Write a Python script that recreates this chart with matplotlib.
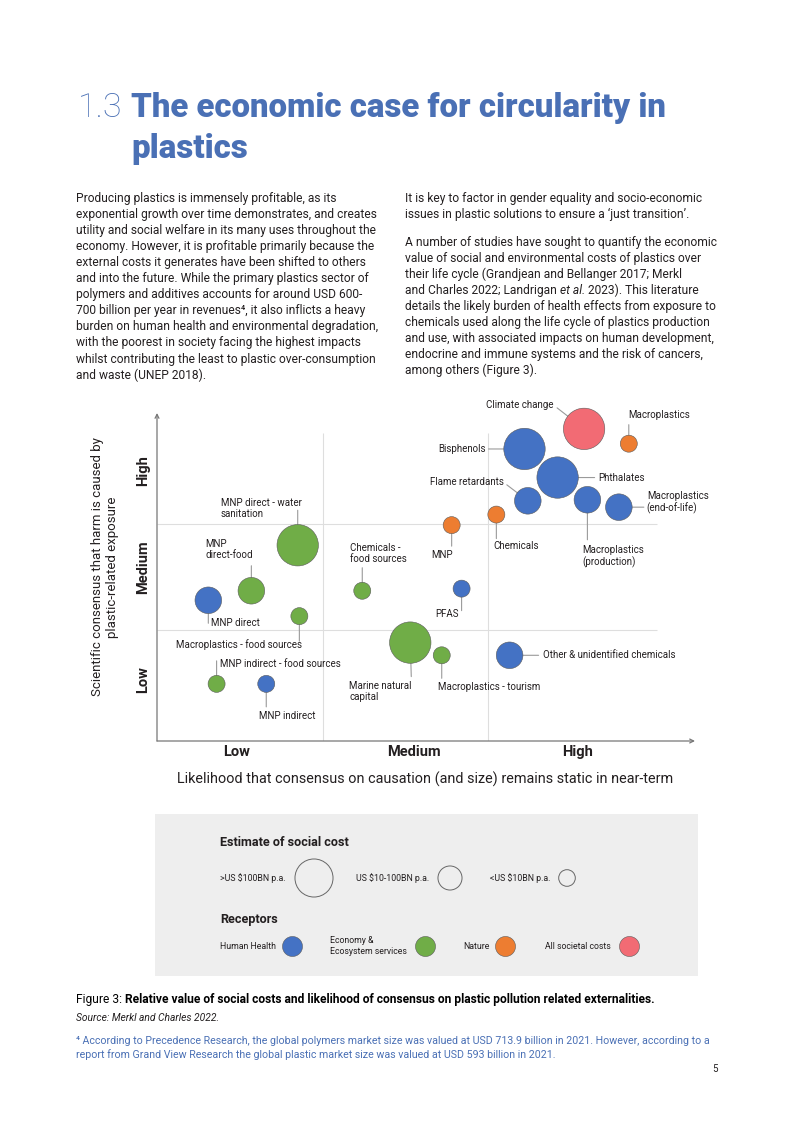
import matplotlib
matplotlib.use("Agg")
import matplotlib.pyplot as plt
from matplotlib.patches import Rectangle

plt.rcParams['font.family'] = ['Roboto', 'DejaVu Sans']

# ---- data (Merkl and Charles 2022) ----
names = ["Climate change", "Macroplastics", "Bisphenols", "Phthalates",
         "Flame retardants", "Macroplastics\n(production)",
         "Macroplastics\n(end-of-life)", "Chemicals", "MNP", "PFAS",
         "Other & unidentified chemicals", "Macroplastics - tourism",
         "Marine natural\ncapital", "Chemicals -\nfood sources",
         "MNP direct - water\nsanitation", "MNP\ndirect-food", "MNP direct",
         "Macroplastics - food sources", "MNP indirect - food sources",
         "MNP indirect"]
# likelihood that consensus remains static (0-3, Low/Medium/High bands)
likelihood = [2.58, 2.85, 2.22, 2.42, 2.24, 2.60, 2.79, 2.05, 1.78, 1.84,
              2.13, 1.72, 1.53, 1.24, 0.85, 0.57, 0.31, 0.86, 0.36, 0.66]
# scientific consensus that harm is caused by exposure (0-3)
consensus = [2.90, 2.76, 2.71, 2.44, 2.22, 2.23, 2.16, 2.09, 1.99, 1.39,
             0.76, 0.76, 0.88, 1.37, 1.80, 1.37, 1.28, 1.13, 0.49, 0.49]
cost = ["high", "low", "high", "high", "mid", "mid", "mid", "low", "low", "low",
        "mid", "low", "high", "low", "high", "mid", "mid", "low", "low", "low"]
receptor = ["all", "nature", "health", "health", "health", "health", "health",
            "nature", "nature", "health", "health", "economy", "economy",
            "economy", "economy", "economy", "health", "economy", "economy",
            "health"]

x_ticklabels = ["Low", "Medium", "High"]
y_ticklabels = ["Low", "Medium", "High"]
cost_labels = {"high": ">US $100BN p.a.", "mid": "US $10-100BN p.a.", "low": "<US $10BN p.a."}
receptor_labels = {"health": "Human Health", "economy": "Economy &\nEcosystem services",
                   "nature": "Nature", "all": "All societal costs"}

# ---- styles ----
colors = {"health": "#4472c4", "economy": "#70ad47", "nature": "#ed7d31", "all": "#f26b74"}
sizes = {"high": 888, "mid": 367, "low": 150}   # points^2
blue = "#4a70b5"
ink = "#231f20"
body = 8.65

# label placement: text offset (px), alignment, leader end offset (px)
lab = {
    "Climate change": (-31, 24, "right", -27, 21),
    "Macroplastics": (-1, 29, "left", 0, 19),
    "Bisphenols": (-39, 0, "right", -36, 0),
    "Phthalates": (41, 0, "left", 37, 0),
    "Flame retardants": (-24, 19, "right", -21, 16),
    "Macroplastics\n(production)": (-5, -57, "left", 0, -40),
    "Macroplastics\n(end-of-life)": (28, 5, "left", 25, 0),
    "Chemicals": (-3, -31, "left", 0, -24),
    "MNP": (-20, -30, "left", 0, -21),
    "PFAS": (-26, -25, "left", 0, -22),
    "Other & unidentified chemicals": (33, 0, "left", 29, 0),
    "Macroplastics - tourism": (-4, -32, "left", 0, -23),
    "Marine natural\ncapital": (-61, -49, "left", 1, -34),
    "Chemicals -\nfood sources": (-12, 37, "left", 0, 23),
    "MNP direct - water\nsanitation": (-77, 37, "left", 0, 35),
    "MNP\ndirect-food": (-46, 41, "left", 0, 25),
    "MNP direct": (3, -23, "left", 0, -23),
    "Macroplastics - food sources": (-123, -28, "left", 0, -25),
    "MNP indirect - food sources": (3, 20, "left", 0, 23),
    "MNP indirect": (-7, -32, "left", 0, -23),
}

fig = plt.figure(figsize=(7.93, 11.22), dpi=100)
W, H = 793, 1122

# page axes in pixel units
pg = fig.add_axes([0, 0, 1, 1])
pg.set_xlim(0, W)
pg.set_ylim(H, 0)
pg.axis("off")
renderer = fig.canvas.get_renderer()


def put(x, y, s, **kw):
    t = pg.text(x, y, s, va="center", **kw)
    return t


def right_of(t):
    bb = t.get_window_extent(renderer)
    return bb.x1


# title
put(78, 108, "1.3", fontsize=24.5, color=blue, fontweight="light")
put(131, 108, "The economic case for circularity in", fontsize=23.8, color=blue,
    fontweight="heavy")
put(131, 149, "plastics", fontsize=23.8, color=blue, fontweight="heavy")

# body text
left_col = [
    "Producing plastics is immensely profitable, as its",
    "exponential growth over time demonstrates, and creates",
    "utility and social welfare in its many uses throughout the",
    "economy. However, it is profitable primarily because the",
    "external costs it generates have been shifted to others",
    "and into the future. While the primary plastics sector of",
    "polymers and additives accounts for around USD 600-",
    "700 billion per year in revenues\u2074, it also inflicts a heavy",
    "burden on human health and environmental degradation,",
    "with the poorest in society facing the highest impacts",
    "whilst contributing the least to plastic over-consumption",
    "and waste (UNEP 2018).",
]
for i, line in enumerate(left_col):
    put(76, 198 + i * 16.1, line, fontsize=body, color=ink)

right_col = [
    "It is key to factor in gender equality and socio-economic",
    "issues in plastic solutions to ensure a \u2018just transition\u2019.",
]
for i, line in enumerate(right_col):
    put(405, 198 + i * 16, line, fontsize=body, color=ink)
right_col2 = [
    "A number of studies have sought to quantify the economic",
    "value of social and environmental costs of plastics over",
    "their life cycle (Grandjean and Bellanger 2017; Merkl",
    None,
    "details the likely burden of health effects from exposure to",
    "chemicals used along the life cycle of plastics production",
    "and use, with associated impacts on human development,",
    "endocrine and immune systems and the risk of cancers,",
    "among others (Figure 3).",
]
for i, line in enumerate(right_col2):
    y = 242 + i * 16
    if line is None:
        a = put(405, y, "and Charles 2022; Landrigan ", fontsize=body, color=ink)
        b = put(right_of(a), y, "et al.", fontsize=body, color=ink, style="italic")
        put(right_of(b), y, " 2023). This literature", fontsize=body, color=ink)
    else:
        put(405, y, line, fontsize=body, color=ink)

# ---- bubble chart ----
ax = fig.add_axes([157 / W, 1 - 741 / H, (695 - 157) / W, (741 - 413) / H])
ax.set_xlim(0, 3.25)
ax.set_ylim(-0.05, 3.05)
for s in ax.spines.values():
    s.set_visible(False)
ax.patch.set_alpha(0)

ax.vlines([1, 2], -0.05, 2.86, color="#dedede", lw=0.8, zorder=0)
ax.hlines([1, 2], 0, 3.02, color="#dedede", lw=0.8, zorder=0)
arrow = dict(arrowstyle="->", color="#777777", lw=0.9, shrinkA=0, shrinkB=0,
             mutation_scale=7)
ax.annotate("", xy=(1, 0), xycoords="axes fraction", xytext=(0, 0), arrowprops=arrow)
ax.annotate("", xy=(0, 1), xycoords="axes fraction", xytext=(0, 0), arrowprops=arrow)

for i, n in enumerate(names):
    dx, dy, ha, lx, ly = lab[n]
    ax.annotate("", xy=(likelihood[i], consensus[i]), xytext=(lx, ly),
                textcoords="offset pixels", zorder=1, annotation_clip=False,
                arrowprops=dict(arrowstyle="-", color="#9a9a9a", lw=0.8,
                                shrinkA=0, shrinkB=0))
    ax.annotate(n, xy=(likelihood[i], consensus[i]), xytext=(dx, dy),
                textcoords="offset pixels", ha=ha, va="center", fontsize=7,
                color=ink, linespacing=1.15, zorder=4, annotation_clip=False)

ax.scatter(likelihood, consensus, s=[sizes[c] for c in cost],
           c=[colors[r] for r in receptor], edgecolors="#5a5a5a",
           linewidths=0.4, zorder=3, clip_on=False)

ax.set_xticks([0.48, 1.55, 2.54])
ax.set_xticklabels(x_ticklabels, fontsize=10.5, fontweight="bold", color=ink)
ax.set_yticks([0.53, 1.59, 2.51])
ax.set_yticklabels(y_ticklabels, fontsize=10.5, fontweight="bold", color=ink,
                   rotation=90, va="center")
ax.tick_params(length=0, pad=3)
ax.tick_params(axis="y", pad=5)

put(425, 779, "Likelihood that consensus on causation (and size) remains static in near-term",
    fontsize=10.4, color=ink, ha="center")
put(105, 567, "Scientific consensus that harm is caused by\nplastic-related exposure",
    fontsize=9.5, color=ink, ha="center", rotation=90, linespacing=1.2)

# ---- legend box ----
pg.add_patch(Rectangle((155, 814), 543, 162, facecolor="#eeeeee", edgecolor="none"))
put(220, 842, "Estimate of social cost", fontsize=9.1, fontweight="bold", color=ink)
leg_cost_txt = [220, 356, 490]
leg_cost_circ = [314, 450, 567]
leg_cost_size = {"high": 750, "mid": 300, "low": 143}
for k, tx, cx in zip(["high", "mid", "low"], leg_cost_txt, leg_cost_circ):
    put(tx, 878, cost_labels[k], fontsize=6.3, color=ink)
    pg.scatter([cx], [878], s=leg_cost_size[k], facecolors="none",
               edgecolors="#666666", linewidths=0.7)
put(220, 919, "Receptors", fontsize=9.1, fontweight="bold", color=ink)
leg_rec_txt = [220, 330, 463, 545]
leg_rec_circ = [292, 425, 505, 629]
for k, tx, cx in zip(["health", "economy", "nature", "all"], leg_rec_txt, leg_rec_circ):
    put(tx, 946, receptor_labels[k], fontsize=6.3, color=ink, linespacing=1.2)
    pg.scatter([cx], [946], s=207, color=colors[k], edgecolors="#5a5a5a",
               linewidths=0.4)

# ---- caption and footnote ----
a = put(76, 999, "Figure 3: ", fontsize=8.65, color="black", fontweight="normal")
put(right_of(a), 999, "Relative value of social costs and likelihood of consensus on "
    "plastic pollution related externalities.", fontsize=8.65, color="black",
    fontweight="bold")
put(76, 1018, "Source: Merkl and Charles 2022.", fontsize=7.4, color=ink, style="italic")
put(76, 1041, "\u2074 According to Precedence Research, the global polymers market size was "
    "valued at USD 713.9 billion in 2021. However, according to a",
    fontsize=7.65, color=blue)
put(76, 1055, "report from Grand View Research the global plastic market size was "
    "valued at USD 593 billion in 2021.", fontsize=7.65, color=blue)
put(718, 1069, "5", fontsize=7, color=ink, ha="right")

fig.savefig("out.png", dpi=100)
